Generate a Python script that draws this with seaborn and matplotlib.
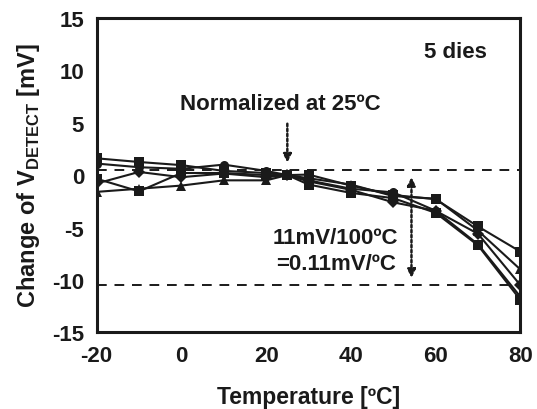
import numpy as np
import pandas as pd
import matplotlib
matplotlib.use("Agg")
import matplotlib.pyplot as plt
import seaborn as sns

temps = [-20, -10, 0, 10, 20, 25, 30, 40, 50, 60, 70, 80]
die_a = [1.6, 1.25, 0.95, 0.4, 0.2, 0, 0.05, -1.0, -1.9, -2.3, -4.9, -7.3]
die_b = [1.1, 0.75, 0.6, 1.0, 0.4, 0, -0.5, -1.3, -1.65, -3.4, -6.6, -11.6]
die_c = [-1.6, -1.3, -1.0, -0.5, -0.5, 0, -0.3, -0.9, -2.0, -2.25, -5.3, -9.0]
die_d = [-0.8, 0.3, -0.2, 0.15, -0.2, 0, -0.6, -1.4, -2.6, -3.4, -5.6, -10.5]
die_e = [-0.35, -1.55, 0.2, 0.2, 0.0, 0, -0.9, -1.7, -2.2, -3.6, -6.7, -11.9]
die_names = ["A", "B", "C", "D", "E"]
ref_top = 0.5
ref_bottom = -10.5
x_ticks = [-20, 0, 20, 40, 60, 80]
y_ticks = [-15, -10, -5, 0, 5, 10, 15]

series = [die_a, die_b, die_c, die_d, die_e]
df = pd.DataFrame({
    "T": temps * len(series),
    "V": [v for s in series for v in s],
    "die": [n for n, s in zip(die_names, series) for _ in s],
})

sns.set_theme(style="white")
plt.rcParams["font.family"] = ["Liberation Sans", "DejaVu Sans"]
plt.rcParams["font.weight"] = "bold"
plt.rcParams["axes.unicode_minus"] = False
plt.rcParams["mathtext.fontset"] = "custom"
plt.rcParams["mathtext.rm"] = "Liberation Sans:bold"
plt.rcParams["mathtext.bf"] = "Liberation Sans:bold"

INK = "#1a1a1a"
FS = 16

fig = plt.figure(figsize=(5.37, 4.10), dpi=100)
ax = fig.add_axes([0.180, 0.187, 0.789, 0.767])

markers = {"A": "s", "B": "o", "C": "^", "D": "D", "E": "s"}
sns.lineplot(data=df, x="T", y="V", hue="die", style="die",
             palette=[INK] * 5, markers=markers, dashes=False,
             linewidth=1.5, markersize=6.5, markeredgewidth=0,
             ax=ax, legend=False)

ax.axhline(ref_top, color=INK, lw=1.4, ls=(0, (5, 4)), zorder=1)
ax.axhline(ref_bottom, color=INK, lw=1.4, ls=(0, (5, 4)), zorder=1)

ax.set_xlim(-20, 80)
ax.set_ylim(-15, 15)
ax.set_xticks(x_ticks)
ax.set_xticks(np.arange(-20, 81, 10), minor=True)
ax.set_yticks(y_ticks)
ax.tick_params(axis="both", which="both", direction="in", length=5, width=2,
               colors=INK, labelsize=FS, pad=9)
for lab in ax.get_xticklabels() + ax.get_yticklabels():
    lab.set_fontweight("bold")
for sp in ax.spines.values():
    sp.set_linewidth(2.2)
    sp.set_color(INK)

ax.set_xlabel("Temperature [ºC]", fontsize=16.5, fontweight="bold", labelpad=14, color=INK)
ax.set_ylabel(r"Change of V$_{\mathrm{DETECT}}$ [mV]", fontsize=17, fontweight="bold",
              labelpad=7, color=INK)

ax.text(64.6, 11.8, "5 dies", fontsize=FS, fontweight="bold", ha="center", va="center", color=INK)
ax.text(23.4, 6.8, "Normalized at 25ºC", fontsize=FS, fontweight="bold", ha="center", va="center", color=INK)
ax.text(36.4, -7.2, "11mV/100ºC\n=0.11mV/ºC", fontsize=FS, fontweight="bold", ha="center",
        va="center", linespacing=1.3, color=INK)

ax.annotate("", xy=(25, 1.2), xytext=(25, 4.9),
            arrowprops=dict(arrowstyle="-|>", ls=(0, (1, 1)), lw=1.8, color=INK,
                            mutation_scale=12, shrinkA=0, shrinkB=0))
ax.annotate("", xy=(54.3, -9.8), xytext=(54.3, -0.2),
            arrowprops=dict(arrowstyle="<|-|>", ls=(0, (1, 1)), lw=1.8, color=INK,
                            mutation_scale=12, shrinkA=0, shrinkB=0))

fig.savefig("out.png", dpi=100)
